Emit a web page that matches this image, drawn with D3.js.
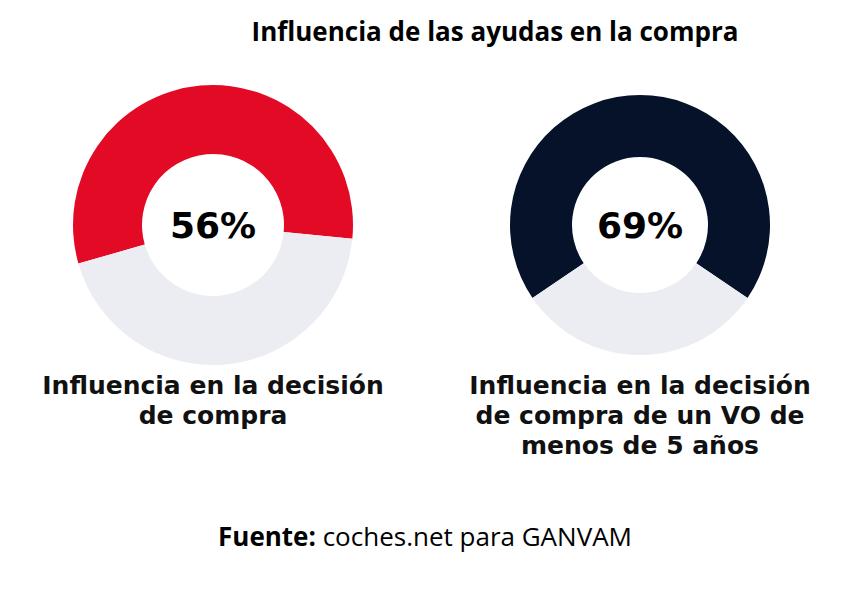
<!DOCTYPE html>
<html><head><meta charset="utf-8">
<script src="https://cdn.jsdelivr.net/npm/d3@7"></script>
<style>body{margin:0;background:#fff}</style></head>
<body><svg id="c" width="850" height="595"></svg>
<script>
const title = "Influencia de las ayudas en la compra";
const values = [56, 69];
const labels = [["Influencia en la decisión","de compra"],["Influencia en la decisión","de compra de un VO de","menos de 5 años"]];
const colors = ["#e30a26", "#06112a"];
const restColor = "#ecedf3";
const startDeg = [-106, -124.2];
const svg = d3.select("#c");
svg.append("text").attr("x",495).attr("y",41).attr("text-anchor","middle")
  .attr("font-family","Open Sans").attr("font-weight",700).attr("font-size",26).text(title);
const cfg = [{cx:213,cy:225,r:140,ri:71},{cx:640,cy:225,r:130,ri:68}];
values.forEach((v,i)=>{
  const c=cfg[i];
  const g=svg.append("g").attr("transform",`translate(${c.cx},${c.cy})`);
  const s=startDeg[i]*Math.PI/180;
  const pie=d3.pie().sort(null).startAngle(s).endAngle(s+2*Math.PI);
  const arc=d3.arc().innerRadius(c.ri).outerRadius(c.r);
  g.selectAll("path").data(pie([v,100-v])).join("path").attr("d",arc)
    .attr("fill",(d,j)=>j===0?colors[i]:restColor);
  g.append("text").attr("text-anchor","middle").attr("dy","0.35em")
    .attr("font-family","DejaVu Sans").attr("font-weight",700).attr("font-size",36).text(v+"%");
  const lx = i===0?213:640;
  labels[i].forEach((t,k)=>svg.append("text").attr("x",lx).attr("y",394+k*30)
    .attr("text-anchor","middle").attr("font-family","DejaVu Sans").attr("font-weight",700)
    .attr("font-size",25).attr("fill","#111").text(t));
});
const f=svg.append("text").attr("x",425).attr("y",546).attr("text-anchor","middle")
  .attr("font-family","Open Sans").attr("font-size",26);
f.append("tspan").attr("font-weight",700).text("Fuente: ");
f.append("tspan").text("coches.net para GANVAM");
</script></body></html>
